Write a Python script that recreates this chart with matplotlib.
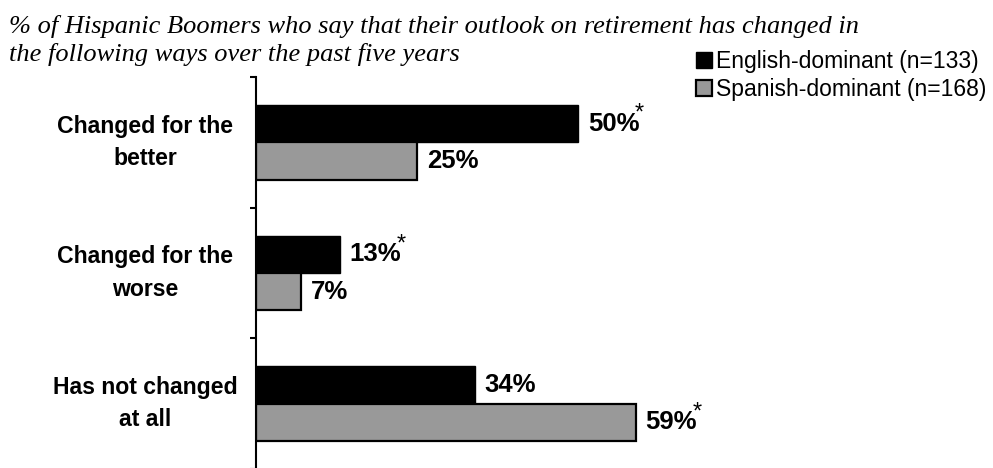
import matplotlib.pyplot as plt
import matplotlib.transforms as mtransforms
from matplotlib.patches import Patch

categories = ["Changed for the\nbetter", "Changed for the\nworse", "Has not changed\nat all"]
english = [50, 13, 34]
spanish = [25, 7, 59]
english_star = [True, True, False]
spanish_star = [False, False, True]
series_names = ["English-dominant (n=133)", "Spanish-dominant (n=168)"]

W, H = 993, 468
fig = plt.figure(figsize=(W / 100, H / 100), dpi=100)
# axes: spine at x=256, top at y=77, runs off the bottom of the picture
ax = fig.add_axes([256 / W, -1 / H, (900 - 256) / W, (H - 77 + 1) / H])

bar_h = 0.285
off = 0.143
ypos = [i + 0.5 for i in range(len(categories))]

ax.barh([y - off for y in ypos], english, height=bar_h, color="black",
        edgecolor="black", linewidth=1)
ax.barh([y + off for y in ypos], spanish, height=bar_h, color="#999999",
        edgecolor="black", linewidth=1.6)

ax.set_xlim(0, 100)
ax.set_ylim(3, 0)
ax.set_yticks([0, 1, 2, 3])
ax.set_yticklabels([])
ax.tick_params(axis="y", length=4, width=1.5, direction="out")
ax.set_xticks([])
for s in ["top", "right", "bottom"]:
    ax.spines[s].set_visible(False)
ax.spines["left"].set_linewidth(1.5)

lab_font = dict(family="Liberation Sans", weight="bold")

def value_label(x, y, star):
    t = ax.annotate(f"{x}%", xy=(x, y), xytext=(7, 0), textcoords="offset points",
                    ha="left", va="center", fontsize=18.5, **lab_font)
    if star:
        ax.annotate("*", xy=(1.0, 0.92), xycoords=t, ha="center", va="center",
                    fontsize=17, family="Liberation Sans", color="black")

for y, e, s, es, ss in zip(ypos, english, spanish, english_star, spanish_star):
    value_label(e, y - off, es)
    value_label(s, y + off, ss)

trans = mtransforms.blended_transform_factory(fig.transFigure, ax.transData)
for y, c in zip(ypos, categories):
    ax.text(145 / W, y, c, transform=trans, ha="center", va="center",
            multialignment="center", fontsize=16.6, linespacing=1.5, **lab_font)

title1 = "% of Hispanic Boomers who say that their outlook on retirement has changed in"
title2 = "the following ways over the past five years"
fig.text(9 / W, 1 - 33 / H, title1, ha="left", va="baseline", fontsize=19,
         family="Liberation Serif", style="italic")
fig.text(9 / W, 1 - 61 / H, title2, ha="left", va="baseline", fontsize=19,
         family="Liberation Serif", style="italic")

handles = [Patch(facecolor="black", edgecolor="black", linewidth=1),
           Patch(facecolor="#999999", edgecolor="black", linewidth=1.6)]
fig.legend(handles, series_names, loc="upper right", bbox_to_anchor=(986 / W, 1 - 50 / H),
           frameon=False, borderpad=0, borderaxespad=0, handlelength=0.7,
           handleheight=0.7, handletextpad=0.15, labelspacing=0.2,
           prop=dict(family="Liberation Sans", size=16.5))

fig.savefig("out.png", dpi=100)
